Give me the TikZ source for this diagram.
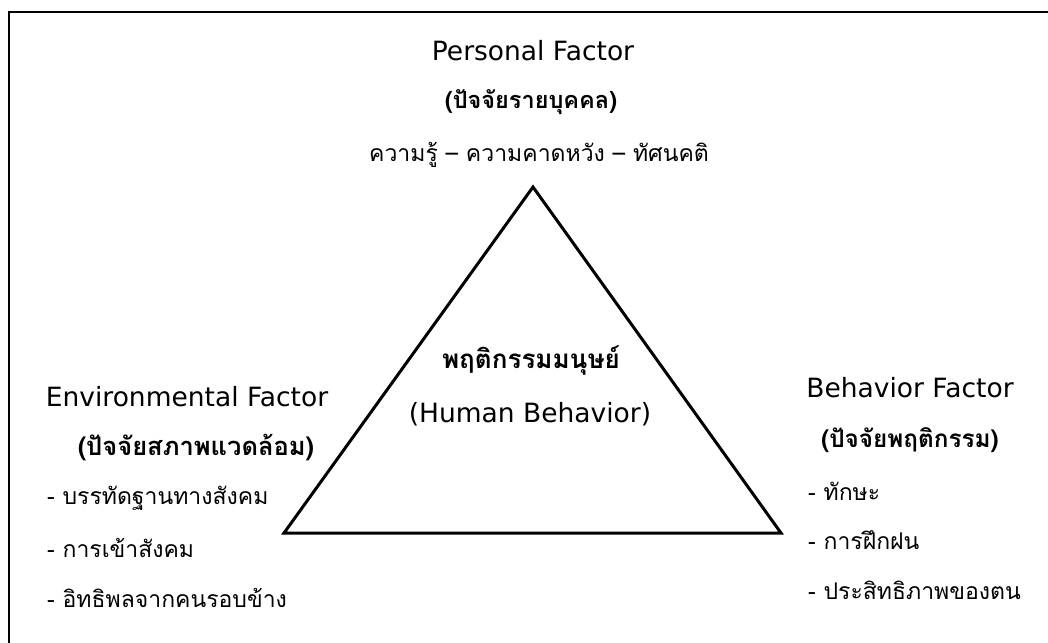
\documentclass[tikz,border=0pt]{standalone}
\usepackage{fontspec}
\setmainfont[Script=Thai]{Loma}
\newfontfamily\latinfont{DejaVu Sans}
\begin{document}
\begin{tikzpicture}[x=1pt,y=-1pt,
  title/.style={font=\latinfont\fontsize{26.5}{31}\selectfont, inner sep=0pt},
  sub/.style={font=\fontsize{23.5}{27}\selectfont\bfseries, inner sep=0pt},
  item/.style={font=\fontsize{23}{27}\selectfont, inner sep=0pt, anchor=west}]
\useasboundingbox (0,0) rectangle (1048,642);
\draw[line width=1.8pt] (9,700) -- (9,12) -- (1100,12);
\coordinate (apex) at (533,187);
\coordinate (bl) at (284,533);
\coordinate (br) at (781,533);
\draw[line width=3pt, line join=miter] (apex) -- (bl) -- (br) -- cycle;
\node[title] (pf) at (533,51) {Personal Factor};
\node[sub] (pft) at (531,102) {(ปัจจัยรายบุคคล)};
\node[font=\fontsize{23}{27}\selectfont, inner sep=0pt] (pfi) at (539,155) {ความรู้ – ความคาดหวัง – ทัศนคติ};
\node[title] (ef) at (187,397) {Environmental Factor};
\node[sub, font=\fontsize{25.5}{30}\selectfont\bfseries] (eft) at (196,448) {(ปัจจัยสภาพแวดล้อม)};
\node[item] (e1) at (47,498) {- บรรทัดฐานทางสังคม};
\node[item] (e2) at (47,548) {- การเข้าสังคม};
\node[item] (e3) at (47,598) {- อิทธิพลจากคนรอบข้าง};
\node[title] (bf) at (910,388) {Behavior Factor};
\node[sub, font=\fontsize{24.3}{29}\selectfont\bfseries] (bft) at (910,440) {(ปัจจัยพฤติกรรม)};
\node[item] (b1) at (808,491) {- ทักษะ};
\node[item] (b2) at (808,540) {- การฝึกฝน};
\node[item] (b3) at (808,590) {- ประสิทธิภาพของตน};
\node[font=\fontsize{26}{30}\selectfont\bfseries, inner sep=0pt] (hb) at (531,360) {พฤติกรรมมนุษย์};
\node[title] (hbe) at (530,414) {(Human Behavior)};
\end{tikzpicture}
\end{document}
